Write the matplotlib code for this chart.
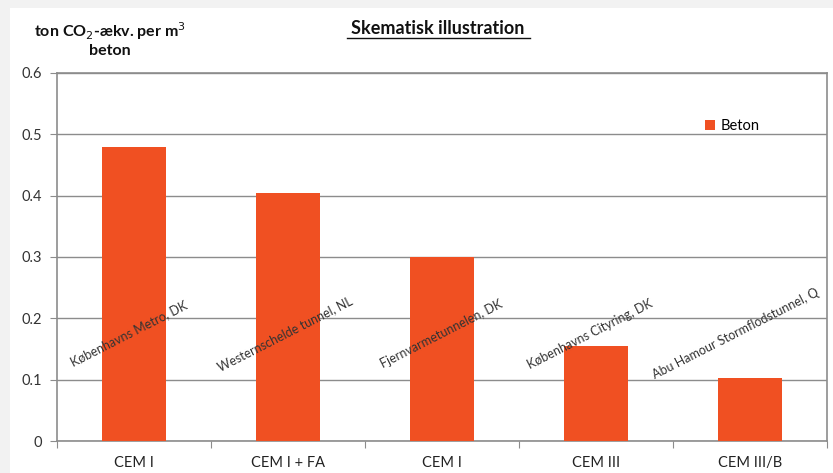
import numpy as np
import matplotlib.pyplot as plt
from matplotlib.patches import Rectangle

plt.rcParams['font.family'] = ['Lato', 'DejaVu Sans']

cement = ["CEM I", "CEM I + FA", "CEM I", "CEM III", "CEM III/B"]
projects = ["Københavns Metro, DK", "Westernschelde tunnel, NL", "Fjernvarmetunnelen, DK",
            "Københavns Cityring, DK", "Abu Hamour Stormflodstunnel, Q"]
beton = [0.48, 0.405, 0.30, 0.155, 0.103]
yticks = [0, 0.1, 0.2, 0.3, 0.4, 0.5, 0.6]

orange = "#F05022"
gray = "#8c8c8c"

fig = plt.figure(figsize=(8.33, 4.73), dpi=100)
fig.patch.set_facecolor("#f2f2f2")
fig.add_artist(Rectangle((10/833, 0), 1, 1 - 8/473, transform=fig.transFigure,
                         facecolor="white", edgecolor="none", zorder=0))

ax = fig.add_axes([57/833, 1 - 441/473, 770/833, 368/473])
ax.set_facecolor("white")
x = np.arange(len(cement))
ax.bar(x, beton, width=0.41, color=orange, zorder=3, label="Beton")

ax.set_xlim(-0.5, len(cement) - 0.5)
ax.set_ylim(0, 0.6)
ax.set_yticks(yticks)
ax.set_yticklabels(["0", "0.1", "0.2", "0.3", "0.4", "0.5", "0.6"], fontsize=10.5, color="#333333")
ax.yaxis.grid(True, color=gray, linewidth=1, zorder=0)

ax.set_xticks(np.arange(-0.5, len(cement), 1))
ax.set_xticklabels([])
ax.set_xticks(x, minor=True)
ax.set_xticklabels(cement, minor=True, fontsize=10.5, color="#222222")
ax.tick_params(axis="x", which="major", length=5, color=gray, direction="out")
ax.tick_params(axis="x", which="minor", length=0, pad=11)
ax.tick_params(axis="y", length=5, color=gray, direction="out", pad=6)
for s in ax.spines.values():
    s.set_color(gray)
    s.set_linewidth(1.2)

# label x offsets relative to bar centre (reference labels are not centred)
offsets = [-0.03, -0.02, 0.0, -0.04, -0.09]
for i, name in enumerate(projects):
    ax.text(i + offsets[i], 0.175, name, rotation=27, ha="center", va="center",
            fontsize=9, color="#333333", zorder=5, rotation_mode="anchor")

ax.legend(loc="upper right", bbox_to_anchor=(0.93, 0.91), frameon=False,
          fontsize=10.5, handlelength=0.7, handleheight=0.7, handletextpad=0.4)

fig.text(438/833, 1 - 28/473, "Skematisk illustration", ha="center", va="center",
         fontsize=13, fontweight="bold", color="#111111")
fig.add_artist(plt.Line2D([347/833, 530/833], [1 - 38/473, 1 - 38/473],
                          transform=fig.transFigure, color="#111111", linewidth=1))
fig.text(110/833, 1 - 31/473, "ton CO$_2$-ækv. per m$^3$", ha="center", va="center",
         fontsize=11.5, fontweight="bold", color="#111111")
fig.text(110/833, 1 - 51/473, "beton", ha="center", va="center",
         fontsize=11.5, fontweight="bold", color="#111111")

fig.savefig("out.png", dpi=100, facecolor=fig.get_facecolor())
